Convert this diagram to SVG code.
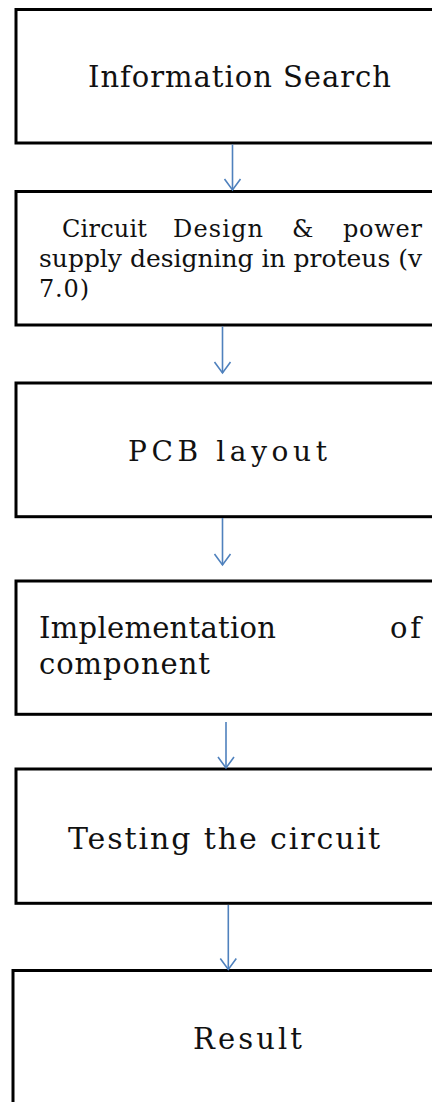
<svg xmlns="http://www.w3.org/2000/svg" width="432" height="1102" viewBox="0 0 432 1102">
  <style>
    .box { fill: #ffffff; stroke: #000000; stroke-width: 3; }
    .lbl { font-family: "DejaVu Serif", "Liberation Serif", serif; fill: #111111; }
    .conn { stroke: #4F81BD; stroke-width: 1.6; fill: none; }
  </style>
  <defs>
    <marker id="arrow" markerUnits="userSpaceOnUse" markerWidth="24" markerHeight="24" viewBox="-12 -12 24 24" refX="0" refY="0" orient="auto">
      <path d="M-11,-8 L0,0 L-11,8" fill="none" stroke="#4F81BD" stroke-width="1.6"/>
    </marker>
  </defs>

  <rect width="432" height="1102" fill="#ffffff"/>

  <g id="node-information-search">
    <rect class="box" x="16" y="9.5" width="430" height="133.5"/>
    <text class="lbl" x="88" y="87" font-size="29" textLength="303" lengthAdjust="spacing">Information  Search</text>
  </g>

  <g id="node-circuit-design">
    <rect class="box" x="16" y="191.5" width="430" height="133.5"/>
    <text class="lbl" font-size="24">
      <tspan x="62" y="237" textLength="85" lengthAdjust="spacing">Circuit</tspan>
      <tspan x="173" y="237" textLength="90" lengthAdjust="spacing">Design</tspan>
      <tspan x="292" y="237" textLength="23" lengthAdjust="spacing">&amp;</tspan>
      <tspan x="343" y="237" textLength="79" lengthAdjust="spacing">power</tspan>
    </text>
    <text class="lbl" x="39" y="267" font-size="24" textLength="383" lengthAdjust="spacingAndGlyphs">supply designing in proteus (v</text>
    <text class="lbl" x="39" y="297" font-size="24" textLength="50" lengthAdjust="spacing">7.0)</text>
  </g>

  <g id="node-pcb-layout">
    <rect class="box" x="16" y="383" width="430" height="133.7"/>
    <text class="lbl" x="128" y="461" font-size="28" textLength="199" lengthAdjust="spacing">PCB layout</text>
  </g>

  <g id="node-implementation">
    <rect class="box" x="16" y="581" width="430" height="133.3"/>
    <text class="lbl" font-size="29">
      <tspan x="39" y="638" textLength="237" lengthAdjust="spacing">Implementation</tspan>
      <tspan x="390" y="638" textLength="31" lengthAdjust="spacing">of</tspan>
    </text>
    <text class="lbl" x="39" y="674" font-size="29" textLength="171" lengthAdjust="spacing">component</text>
  </g>

  <g id="node-testing">
    <rect class="box" x="16" y="769" width="430" height="134.3"/>
    <text class="lbl" x="68" y="849" font-size="30" textLength="312" lengthAdjust="spacing">Testing the circuit</text>
  </g>

  <g id="node-result">
    <rect class="box" x="13" y="970.5" width="433" height="150"/>
    <text class="lbl" x="193" y="1049" font-size="29" textLength="109" lengthAdjust="spacing">Result</text>
  </g>

  <g id="connectors">
    <line class="conn" x1="232.5" y1="144.5" x2="232.5" y2="190" marker-end="url(#arrow)"/>
    <line class="conn" x1="222.5" y1="326.5" x2="222.5" y2="373" marker-end="url(#arrow)"/>
    <line class="conn" x1="222.5" y1="518" x2="222.5" y2="565" marker-end="url(#arrow)"/>
    <line class="conn" x1="226" y1="722" x2="226" y2="768" marker-end="url(#arrow)"/>
    <line class="conn" x1="228.3" y1="905" x2="228.3" y2="969.5" marker-end="url(#arrow)"/>
  </g>
</svg>
